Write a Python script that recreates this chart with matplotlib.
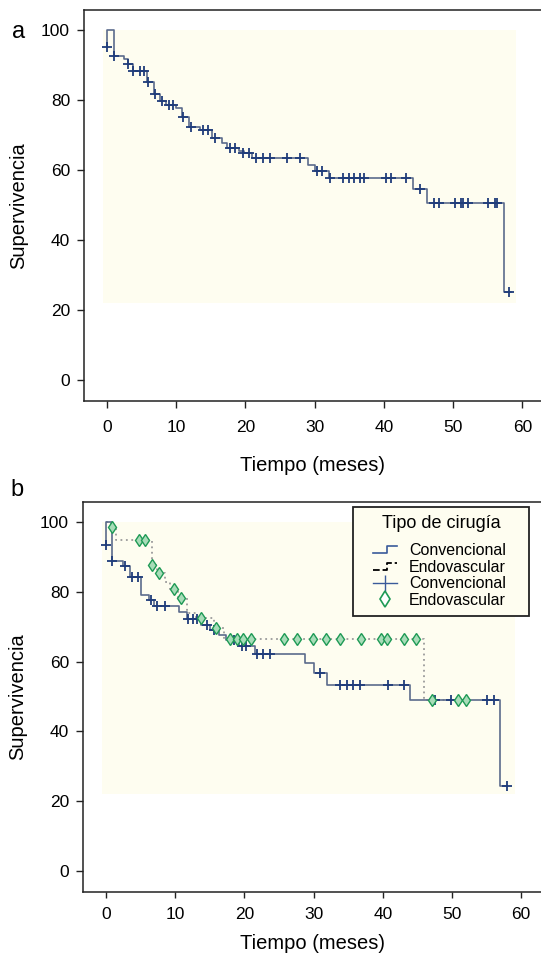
import matplotlib
matplotlib.use("Agg")
import matplotlib.pyplot as plt
from matplotlib.lines import Line2D
from matplotlib.legend_handler import HandlerBase

plt.rcParams['font.family'] = ['Liberation Sans', 'DejaVu Sans']

# panel a: global survival (step times / levels after each step)
t_a = [0, 0, 1.0, 2.4, 3.0, 3.7, 5.8, 6.8, 7.6, 8.5, 10.0, 10.8, 11.9, 13.5, 15.2, 16.6,
       17.4, 19.0, 19.8, 21.0, 29.0, 30.1, 32.1, 44.2, 46.2, 57.3, 58.3]
s_a = [95, 100, 92.6, 91.6, 90.3, 88.2, 85.2, 81.7, 79.6, 78.6, 77.6, 75.2, 72.2, 71.3, 69.0, 67.8,
       66.4, 65.5, 64.8, 63.4, 61.4, 59.8, 57.6, 54.5, 50.5, 25.0, 25.0]
cens_a_x = [0, 1.0, 3.0, 3.8, 4.8, 5.3, 5.9, 7.0, 7.9, 8.9, 9.5, 11.0, 12.2, 13.9, 14.6, 15.6,
            17.8, 18.5, 19.7, 20.5, 21.6, 22.6, 23.6, 26.0, 27.9, 30.3, 31.0, 32.2, 34.1, 35.0,
            35.7, 36.6, 37.1, 40.3, 41.1, 43.2, 45.2, 47.2, 48.0, 50.3, 51.1, 51.5, 52.2, 55.1,
            56.0, 56.4, 58.1]
cens_a_y = [95, 92.6, 90.3, 88.2, 88.2, 88.2, 85.2, 81.7, 79.6, 78.6, 78.6, 75.2, 72.2, 71.3, 71.3, 69.0,
            66.4, 66.4, 64.8, 64.8, 63.4, 63.4, 63.4, 63.4, 63.4, 59.8, 59.8, 57.6, 57.6, 57.6,
            57.6, 57.6, 57.6, 57.6, 57.6, 57.6, 54.5, 50.5, 50.5, 50.5, 50.5, 50.5, 50.5, 50.5,
            50.5, 50.5, 25.0]

# panel b: Convencional
t_c = [0, 0, 0.8, 2.5, 3.5, 5.0, 6.2, 7.0, 10.5, 11.7, 13.8, 15.0, 16.3, 17.4, 19.2, 21.5,
       28.8, 30.0, 31.9, 43.9, 57.0, 58.0]
s_c = [93.5, 100, 88.7, 87.4, 84.2, 79.1, 77.7, 75.8, 74.2, 72.3, 70.4, 68.9, 67.7, 66.3, 64.4, 62.3,
       59.6, 56.6, 53.4, 48.9, 24.4, 24.4]
cens_c_x = [0, 0.8, 2.7, 3.8, 4.6, 6.5, 7.4, 8.6, 11.9, 12.6, 13.1, 14.6, 15.6, 18.5, 19.6, 20.2,
            21.8, 22.7, 23.7, 30.9, 33.8, 34.8, 35.7, 36.7, 40.8, 43.0, 47.5, 49.9, 55.0, 56.0, 58.0]
cens_c_y = [93.5, 88.7, 87.4, 84.2, 84.2, 77.7, 75.8, 75.8, 72.3, 72.3, 72.3, 70.4, 68.9, 66.3, 64.4, 64.4,
            62.3, 62.3, 62.3, 56.6, 53.4, 53.4, 53.4, 53.4, 53.4, 53.4, 48.9, 48.9, 48.9, 48.9, 24.4]

# panel b: Endovascular
t_e = [0, 0.7, 1.5, 6.6, 7.4, 8.6, 9.3, 10.4, 11.7, 13.0, 15.6, 17.0, 46.0, 52.5]
s_e = [100, 98.5, 94.7, 87.7, 85.5, 82.9, 80.8, 78.2, 73.9, 72.5, 69.6, 66.4, 49.1, 49.1]
cens_e_x = [0.8, 4.8, 5.6, 6.7, 7.7, 9.8, 10.8, 13.8, 15.9, 17.9, 18.9, 19.8, 20.9, 25.7, 27.6,
            29.9, 31.8, 33.8, 36.8, 39.8, 40.6, 43.0, 44.8, 47.1, 50.9, 52.0]
cens_e_y = [98.5, 94.7, 94.7, 87.7, 85.5, 80.8, 78.2, 72.5, 69.6, 66.4, 66.4, 66.4, 66.4, 66.4, 66.4,
            66.4, 66.4, 66.4, 66.4, 66.4, 66.4, 66.4, 66.4, 49.1, 49.1, 49.1]

bg_x = [-0.6, 59.1]
bg_y = [22, 100]

line_col = '#5b6b8c'
cens_col = '#1f3c7a'
endo_line = '#9a9a9a'
endo_mk = '#1e9a55'
bg_col = '#fefdf0'

fig = plt.figure(figsize=(5.41, 9.57), dpi=100)
ax_a = fig.add_axes([84 / 541, 1 - 401 / 957, 1 - 84 / 541, 391 / 957])
ax_b = fig.add_axes([83 / 541, 1 - 892 / 957, 1 - 83 / 541, 390 / 957])


def style(ax, xl, xpad, tlen, lpad):
    ax.fill_between(bg_x, bg_y[0], bg_y[1], color=bg_col, lw=0, zorder=0)
    ax.set_xlim(*xl)
    ax.set_ylim(-6, 105.7)
    ax.set_xticks([0, 10, 20, 30, 40, 50, 60])
    ax.set_yticks([0, 20, 40, 60, 80, 100])
    ax.spines['right'].set_visible(False)
    for s in ['left', 'top', 'bottom']:
        ax.spines[s].set_linewidth(1.1)
        ax.spines[s].set_color('#222222')
    ax.tick_params(direction='out', length=5, width=1.0, color='#222222', labelsize=12.5)
    ax.tick_params(axis='x', pad=xpad, length=tlen)
    ax.tick_params(axis='y', pad=5)
    ax.set_xlabel('Tiempo (meses)', fontsize=14.5, labelpad=lpad)
    ax.set_ylabel('Supervivencia', fontsize=14.5, labelpad=9)


style(ax_a, (-3.32, 62.7), 9, 5, 15)
ax_a.plot(t_a, s_a, drawstyle='steps-post', color=line_col, lw=1.2)
ax_a.plot(cens_a_x, cens_a_y, ls='none', marker='+', ms=7, mew=1.3, color=cens_col)

style(ax_b, (-3.32, 62.86), 6, 4.5, 9)
ax_b.plot(t_e, s_e, drawstyle='steps-post', color=endo_line, lw=1.3, ls=(0, (1, 2)))
ax_b.plot(t_c, s_c, drawstyle='steps-post', color=line_col, lw=1.2)
ax_b.plot(cens_c_x, cens_c_y, ls='none', marker='+', ms=7, mew=1.3, color=cens_col)
ax_b.plot(cens_e_x, cens_e_y, ls='none', marker='d', ms=6, mew=1.0,
          mec=endo_mk, mfc='#a8dcb8')

fig.text(12 / 541, 1 - 32 / 957, 'a', fontsize=17, va='center', ha='left')
fig.text(10 / 541, 1 - 490 / 957, 'b', fontsize=17, va='center', ha='left')


class HandlerRight(HandlerBase):
    # draws the handle in the right part of the handle box
    def __init__(self, kind):
        super().__init__()
        self.kind = kind

    def create_artists(self, legend, orig_handle, xdescent, ydescent, width, height,
                       fontsize, trans):
        x0 = -xdescent + 0.33 * width
        w = 0.67 * width
        y0 = -ydescent
        ym = y0 + 0.5 * height
        if self.kind == 'step':
            xs = [x0, x0 + 0.6 * w, x0 + 0.6 * w, x0 + w]
            ys = [y0 + 0.15 * height, y0 + 0.15 * height, y0 + 0.8 * height, y0 + 0.8 * height]
            ln = Line2D(xs, ys, color=orig_handle.get_color(), lw=orig_handle.get_linewidth(),
                        ls=orig_handle.get_linestyle(), transform=trans)
            return [ln]
        if self.kind == 'cross':
            ln = Line2D([x0, x0 + w], [ym, ym], color=orig_handle.get_color(),
                        lw=orig_handle.get_linewidth(), transform=trans)
            mk = Line2D([x0 + 0.5 * w], [ym], ls='none', marker='|', ms=12, mew=1.0,
                        color=orig_handle.get_color(), transform=trans)
            return [ln, mk]
        mk = Line2D([x0 + 0.5 * w], [ym], ls='none', marker='d', ms=8, mew=1.2,
                    mec=endo_mk, mfc='white', transform=trans)
        return [mk]


h1 = Line2D([], [], color='#3a5a9a', lw=1.2)
h2 = Line2D([], [], color='black', lw=1.3, ls=(0, (1, 2)))
h3 = Line2D([], [], color='#3a5a9a', lw=1.0)
h4 = Line2D([], [], ls='none', marker='d')
leg = ax_b.legend([h1, h2, h3, h4], ['Convencional', 'Endovascular', 'Convencional', 'Endovascular'],
                  title='Tipo de cirugía', loc='upper left',
                  bbox_to_anchor=(0.5895, 0.705, 0.3843, 0.282), mode='expand',
                  borderaxespad=0, fontsize=11.5, title_fontsize=13, labelspacing=0.1,
                  handlelength=2.25, handletextpad=0.75, borderpad=0.5, fancybox=False,
                  handler_map={h1: HandlerRight('step'), h2: HandlerRight('step'),
                               h3: HandlerRight('cross'), h4: HandlerRight('diamond')})
leg._legend_box.sep = 8
leg.get_frame().set_edgecolor('#222222')
leg.get_frame().set_linewidth(1.3)
leg.get_frame().set_facecolor(bg_col)
leg.get_frame().set_alpha(1)

fig.savefig('out.png', dpi=100)
